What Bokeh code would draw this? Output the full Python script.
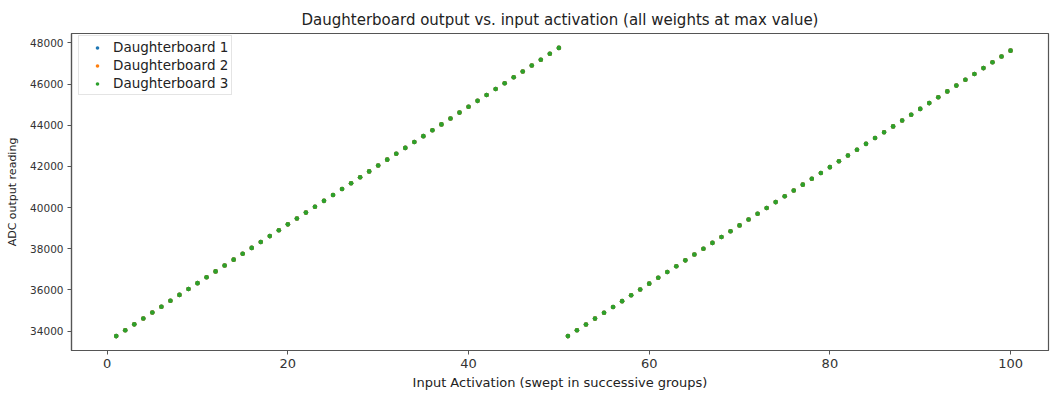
from bokeh.plotting import figure
from bokeh.models import Range1d, FixedTicker, BasicTickFormatter, Legend, LegendItem
from bokeh.embed import file_html
from bokeh.resources import INLINE

# Input activation index, swept in two successive groups of 50
inputs_group1 = list(range(1, 51))
inputs_group2 = list(range(51, 101))

# ADC readings for each group (all weights at max value)
adc_group1 = [
    33755, 34040, 34326, 34612, 34898, 35183, 35469, 35755, 36040, 36326,
    36612, 36898, 37183, 37469, 37755, 38040, 38326, 38612, 38898, 39183,
    39469, 39755, 40040, 40326, 40612, 40898, 41183, 41469, 41755, 42040,
    42326, 42612, 42898, 43183, 43469, 43755, 44040, 44326, 44612, 44898,
    45183, 45469, 45755, 46040, 46326, 46612, 46898, 47183, 47469, 47755,
]
adc_group2 = [
    33755, 34038, 34321, 34604, 34887, 35170, 35453, 35736, 36019, 36302,
    36585, 36868, 37151, 37434, 37717, 38000, 38283, 38566, 38849, 39132,
    39415, 39698, 39981, 40264, 40547, 40830, 41113, 41396, 41679, 41962,
    42245, 42528, 42811, 43094, 43377, 43660, 43943, 44226, 44509, 44792,
    45075, 45358, 45641, 45924, 46207, 46490, 46773, 47056, 47339, 47622,
]

activation = inputs_group1 + inputs_group2
daughterboard_1 = adc_group1 + adc_group2
daughterboard_2 = adc_group1 + adc_group2
daughterboard_3 = adc_group1 + adc_group2

series_names = ["Daughterboard 1", "Daughterboard 2", "Daughterboard 3"]
series_values = [daughterboard_1, daughterboard_2, daughterboard_3]
series_colors = ["#1f77b4", "#ff7f0e", "#2ca02c"]

x_ticks = [0, 20, 40, 60, 80, 100]
y_ticks = [34000, 36000, 38000, 40000, 42000, 44000, 46000, 48000]

FONT = "DejaVu Sans"

p = figure(
    width=1050, height=394,
    output_backend="svg", toolbar_location=None,
    x_range=Range1d(-3.95, 104.2), y_range=Range1d(33055, 48455),
    min_border_left=71, min_border_right=2, min_border_top=33, min_border_bottom=44,
    title="Daughterboard output vs. input activation (all weights at max value)",
)
p.title.align = "center"
p.title.text_font = FONT
p.title.text_font_size = "15px"
p.title.text_font_style = "normal"
p.title.text_color = "#222222"

p.grid.visible = False
p.outline_line_color = "#555555"
p.outline_line_width = 1.2
p.background_fill_color = "white"
p.border_fill_color = "white"

renderers = []
for vals, color in zip(series_values, series_colors):
    r = p.scatter(activation, vals, size=4.6, color=color, line_color=None)
    renderers.append(r)

legend = Legend(
    items=[LegendItem(label=n, renderers=[r]) for n, r in zip(series_names, renderers)],
    location=(7, 255),
)
legend.label_text_font = FONT
legend.label_text_font_size = "13.5px"
legend.label_text_color = "#222222"
legend.glyph_width = 30
legend.glyph_height = 9
legend.label_height = 16
legend.label_standoff = 1
legend.spacing = 2
legend.padding = 3
legend.margin = 0
legend.border_line_color = "#dddddd"
legend.border_line_alpha = 0.8
legend.background_fill_alpha = 0.8
p.add_layout(legend)

for ax in (p.xaxis[0], p.yaxis[0]):
    ax.axis_line_color = "#555555"
    ax.axis_line_width = 1.2
    ax.major_tick_line_color = "#555555"
    ax.major_tick_out = 4
    ax.major_tick_in = 0
    ax.minor_tick_line_color = None
    ax.major_label_text_font = FONT
    ax.major_label_text_color = "#333333"
    ax.axis_label_text_font = FONT
    ax.axis_label_text_font_style = "normal"
    ax.axis_label_text_color = "#222222"

p.xaxis.ticker = FixedTicker(ticks=x_ticks)
p.xaxis.major_label_text_font_size = "13px"
p.xaxis.axis_label = "Input Activation (swept in successive groups)"
p.xaxis.axis_label_text_font_size = "13px"
p.xaxis.axis_label_standoff = 4
p.xaxis.major_label_standoff = 4

p.yaxis.ticker = FixedTicker(ticks=y_ticks)
p.yaxis.formatter = BasicTickFormatter(use_scientific=False)
p.yaxis.major_label_text_font_size = "10.5px"
p.yaxis.axis_label = "ADC output reading"
p.yaxis.axis_label_text_font_size = "11px"
p.yaxis.axis_label_standoff = 8
p.yaxis.major_label_standoff = 4

open("out.html", "w").write(file_html(p, INLINE))
